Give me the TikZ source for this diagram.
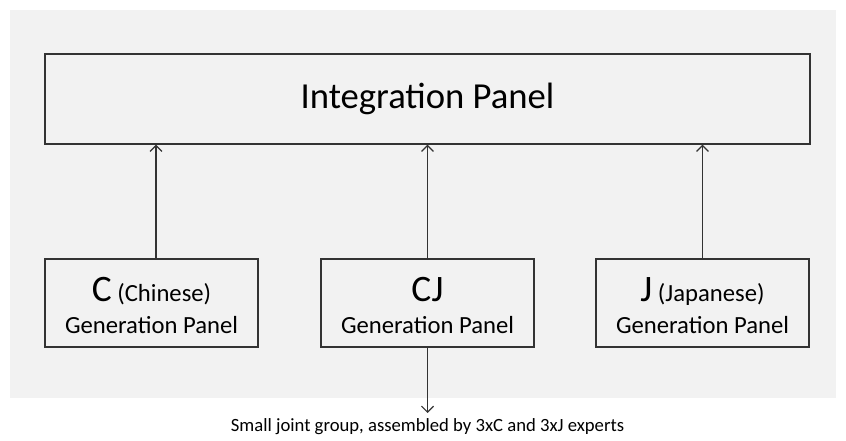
\documentclass[tikz,border=0pt]{standalone}
\usepackage{fontspec}
\setmainfont{Carlito}
\usepackage{tikz}
\usetikzlibrary{positioning, arrows.meta}

\definecolor{panelbg}{HTML}{F2F2F2}
\definecolor{panelline}{HTML}{333333}

\newcommand{\bigletter}[1]{\rule{0pt}{22.5pt}{\fontsize{28}{28}\selectfont #1}}

\tikzset{
	panel/.style={draw=panelline, line width=0.9pt, fill=panelbg, inner sep=0pt},
	genpanel/.style={panel, minimum width=159.75pt, minimum height=66pt, align=center,
		font=\fontsize{18.5}{24}\selectfont},
	feed/.style={-{Straight Barb[length=4.5pt, width=9pt]}, draw=panelline, line width=0.9pt}
}

\begin{document}
\begin{tikzpicture}[x=0.75pt, y=-0.75pt]
	\useasboundingbox (0,0) rectangle (846,441);
	\fill[panelbg] (10,10) rectangle (836,398);
	\node[panel, minimum width=573.75pt, minimum height=67.5pt,
		font=\fontsize{27.5}{27.5}\selectfont] (integ) at (427.5,99) {Integration Panel};
	\node[genpanel] (cgen) at (151.5,303)
		{\bigletter{C} (Chinese)\\Generation Panel};
	\node[genpanel] (cjgen) at (427.5,303)
		{\bigletter{CJ}\\Generation Panel};
	\node[genpanel] (jgen) at (702.5,303)
		{\bigletter{J} (Japanese)\\Generation Panel};
	\coordinate (joint) at (427.5,413);
	\node[font=\fontsize{14}{16}\selectfont, below=0.5pt of joint] (jointlabel)
		{Small joint group, assembled by 3xC and 3xJ experts};
	% arrows up into the integration panel
	\draw[feed] ([xshift=3.4pt]cgen.north) -- ([xshift=3.4pt]cgen.north |- integ.south);
	\draw[feed] (cjgen.north) -- (cjgen.north |- integ.south);
	\draw[feed] (jgen.north) -- (jgen.north |- integ.south);
	\draw[feed] (cjgen.south) -- (joint);
\end{tikzpicture}
\end{document}
